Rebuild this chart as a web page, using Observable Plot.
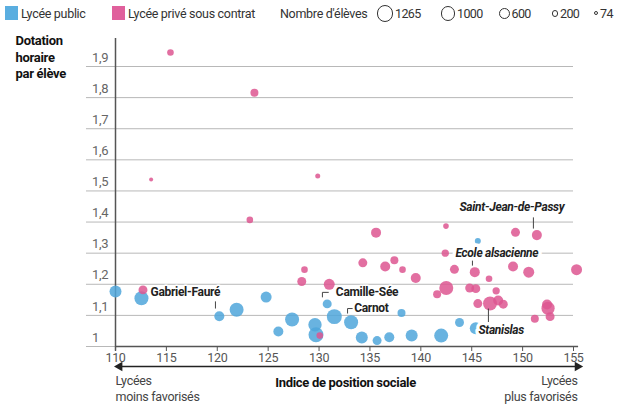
<!DOCTYPE html>
<html><head><meta charset="utf-8">
<script src="https://cdn.jsdelivr.net/npm/d3@7"></script>
<script src="https://cdn.jsdelivr.net/npm/@observablehq/plot@0.6"></script>
<style>
body{margin:0;background:#fff;font-family:Roboto,"Noto Sans",sans-serif;}
#legend{position:relative;height:27px;width:624px;font-size:12.5px;color:#333;}
#legend .t{position:absolute;top:6px;line-height:15px;white-space:nowrap;letter-spacing:-0.3px}
#legend .sw{position:absolute;top:6px;width:13px;height:14px}
#legend .c{position:absolute;border:1.2px solid #333;border-radius:50%;box-sizing:border-box}
svg text{letter-spacing:-0.3px}
</style></head><body>
<div id="legend"></div>
<div id="chart"></div>
<script>
// ---- data ----
const publicX = [110.0,112.55,120.2,121.9,124.8,126.0,127.35,129.6,129.7,130.8,131.5,133.15,134.2,135.7,136.9,138.1,139.1,142.0,143.8,145.4,145.6];
const publicY = [1.177,1.155,1.097,1.118,1.159,1.048,1.087,1.070,1.038,1.137,1.096,1.078,1.029,1.019,1.030,1.108,1.035,1.035,1.077,1.059,1.339];
const publicN = [660,900,460,900,555,460,900,820,1030,370,1030,900,660,370,460,294,660,900,370,660,165];

const priveX = [115.4,123.65,113.5,129.87,123.2,112.7,135.6,134.3,128.57,128.3,131.0,130.07,142.47,136.5,137.4,138.2,139.5,142.4,143.3,145.3,142.5,141.6,144.8,145.4,145.6,149.3,151.4,149.06,150.6,155.3,146.7,147.4,146.8,147.6,148.1,152.4,152.5,152.7,151.2];
const priveY = [1.945,1.816,1.537,1.548,1.407,1.182,1.366,1.269,1.247,1.209,1.200,1.035,1.387,1.257,1.277,1.247,1.220,1.300,1.248,1.239,1.188,1.168,1.188,1.186,1.138,1.367,1.358,1.257,1.239,1.247,1.218,1.179,1.138,1.148,1.136,1.135,1.123,1.096,1.089];
const priveN = [200,294,74,115,200,370,460,370,200,370,555,200,146,460,294,200,460,245,370,460,900,294,370,370,370,370,460,460,555,555,200,245,900,460,370,460,800,370,294];

const xTicks = [110,115,120,125,130,135,140,145,150,155];
const yTicks = [1.0,1.1,1.2,1.3,1.4,1.5,1.6,1.7,1.8,1.9];
const legendSizes = [1265,1000,600,200,74];

const labelsPlain = [
  {name:"Gabriel-Fauré", x:113.44, y:1.174},
  {name:"Camille-Sée", x:131.65, y:1.174},
  {name:"Carnot", x:133.45, y:1.123}
];
const labelsItalicStart = [
  {name:"Ecole alsacienne", x:143.4, y:1.300},
  {name:"Stanislas", x:145.66, y:1.051}
];
const labelsItalicEnd = [
  {name:"Saint-Jean-de-Passy", x:154.1, y:1.447}
];
const leaders = [
  {x1:119.82,y1:1.145,x2:119.82,y2:1.122},
  {x1:130.33,y1:1.158,x2:130.33,y2:1.174},
  {x1:130.33,y1:1.174,x2:130.95,y2:1.174},
  {x1:132.8,y1:1.106,x2:132.8,y2:1.122},
  {x1:132.8,y1:1.122,x2:133.3,y2:1.122},
  {x1:151.06,y1:1.415,x2:151.06,y2:1.379},
  {x1:145.07,y1:1.277,x2:145.07,y2:1.260},
  {x1:146.64,y1:1.122,x2:146.64,y2:1.074}
];

const BLUE = "#4fa6da", PINK = "#dd5690";

const points = [
  ...publicX.map((x,i)=>({type:"Lycée public", x, y:publicY[i], n:publicN[i]})),
  ...priveX.map((x,i)=>({type:"Lycée privé sous contrat", x, y:priveY[i], n:priveN[i]}))
].sort((a,b)=>b.n-a.n);

const fmt = d => d === 1 ? "1" : d.toFixed(1).replace(".", ",");

const plot = Plot.plot({
  width: 624, height: 377,
  marginLeft: 115, marginRight: 51, marginTop: 39, marginBottom: 58,
  x: {domain:[110,155]},
  y: {domain:[1,1.9], axis:null},
  r: {type:"sqrt", domain:[0,1265], range:[0,8.3]},
  color: {domain:["Lycée public","Lycée privé sous contrat"], range:[BLUE,PINK]},
  style: {fontFamily:"Roboto, 'Noto Sans', sans-serif", background:"#fff"},
  marks: [
    Plot.ruleY(yTicks, {x1:107.15, x2:155, stroke:"#b8b8b8", strokeWidth:1}),
    Plot.text(yTicks, {x:107.7, y:d=>d, text:fmt, textAnchor:"start", dy:-9, fontSize:13, fill:"#666"}),
    Plot.ruleX([110], {y1:0.985, y2:1.99, stroke:"#555", strokeWidth:1.5}),
    Plot.ruleY([1], {x1:110, x2:155.5, stroke:"#555", strokeWidth:1.5}),
    Plot.axisX({ticks:xTicks, tickSize:5, tickPadding:2, fontSize:12.5, color:"#555", label:null, tickFormat:d=>String(d)}),
    Plot.dot(points, {x:"x", y:"y", r:"n", fill:"type", fillOpacity:0.85, stroke:"none"}),
    Plot.link(leaders, {x1:"x1", y1:"y1", x2:"x2", y2:"y2", stroke:"#444", strokeWidth:1}),
    Plot.text(labelsPlain, {x:"x", y:"y", text:"name", textAnchor:"start", fontWeight:"bold", fontSize:12, fill:"#222", stroke:"white", strokeWidth:3}),
    Plot.text(labelsItalicStart, {x:"x", y:"y", text:"name", textAnchor:"start", fontWeight:"bold", fontStyle:"italic", fontSize:12, fill:"#222", stroke:"white", strokeWidth:7}),
    Plot.text(labelsItalicEnd, {x:"x", y:"y", text:"name", textAnchor:"end", fontWeight:"bold", fontStyle:"italic", fontSize:12, fill:"#222", stroke:"white", strokeWidth:3}),
    // y title
    Plot.text(["Dotation\nhoraire\npar élève"], {frameAnchor:"top-left", dx:-100, dy:-10, lineAnchor:"middle", textAnchor:"start", fontWeight:"bold", fontSize:13, lineHeight:1.25, fill:"#111"}),
    // bottom double arrow
    Plot.ruleY([0.9357], {x1:110.3, x2:155.3, stroke:"#222", strokeWidth:1.3}),
    Plot.dot([{x:110.4, a:-90},{x:155.4, a:90}], {x:"x", y:0.9357, symbol:"triangle", r:3.6, rotate:"a", fill:"#222", stroke:"none"}),
    Plot.text(["Lycées\nmoins favorisés"], {x:110, y:0.868, textAnchor:"start", lineAnchor:"middle", fontSize:12.5, lineHeight:1.28, fill:"#444"}),
    Plot.text(["Lycées\nplus favorisés"], {x:155.4, y:0.868, textAnchor:"end", lineAnchor:"middle", fontSize:12.5, lineHeight:1.28, fill:"#444"}),
    Plot.text(["Indice de position sociale"], {x:132.6, y:0.884, textAnchor:"middle", fontWeight:"bold", fontSize:13, fill:"#111"})
  ]
});
document.getElementById("chart").append(plot);

// ---- legend (HTML, using the plot's own r scale) ----
const rScale = plot.scale("r");
const lg = document.getElementById("legend");
function add(html){ lg.insertAdjacentHTML("beforeend", html); }
add(`<div class="sw" style="left:5px;background:#5aaee0"></div>`);
add(`<span class="t" style="left:21px">Lycée public</span>`);
add(`<div class="sw" style="left:112px;background:#e0609c"></div>`);
add(`<span class="t" style="left:128px">Lycée privé sous contrat</span>`);
add(`<span class="t" style="left:280px">Nombre d'élèves</span>`);
const textStarts = [395, 457, 511.5, 560, 600];
legendSizes.forEach((n,i)=>{
  const r = rScale.apply(n);
  const cx = textStarts[i] - 1.5 - r;
  add(`<div class="c" style="left:${cx-r}px;top:${13.5-r}px;width:${2*r}px;height:${2*r}px"></div>`);
  add(`<span class="t" style="left:${textStarts[i]}px;letter-spacing:-0.6px">${String(n)}</span>`);
});
</script>
</body></html>
